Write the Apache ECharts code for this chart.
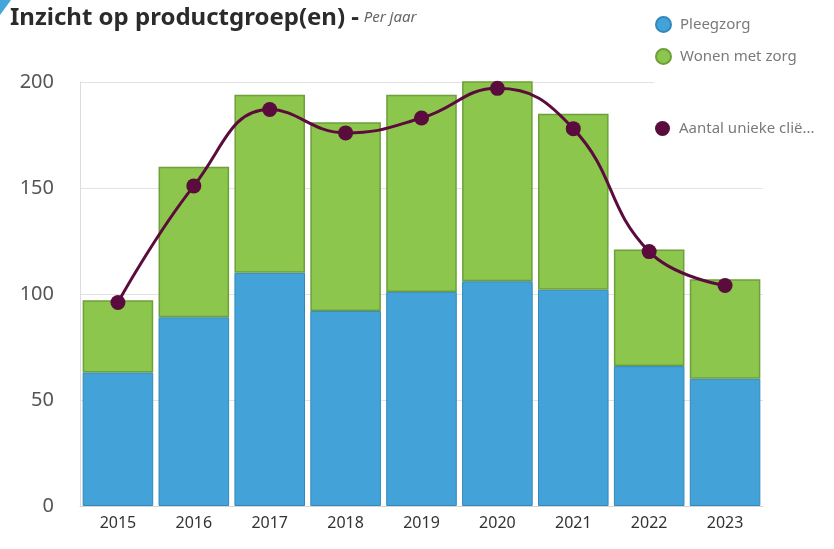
<!DOCTYPE html>
<html>
<head>
<meta charset="utf-8">
<script src="https://cdn.jsdelivr.net/npm/echarts@6/dist/echarts.min.js"></script>
<style>
  html, body { margin: 0; padding: 0; background: #fff; }
  #chart { width: 834px; height: 549px; }
</style>
</head>
<body>
<div id="chart"></div>
<script>
const years = ["2015", "2016", "2017", "2018", "2019", "2020", "2021", "2022", "2023"];
const pleegzorg = [63, 89, 110, 92, 101, 106, 102, 66, 60];
const wonenMetZorg = [34, 71, 84, 89, 93, 95, 83, 55, 47];
const uniekeClienten = [96, 151, 187, 176, 183, 197, 178, 120, 104];
const yTicks = { min: 0, max: 200, interval: 50 };

const chart = echarts.init(document.getElementById("chart"));
const font = "'Noto Sans', sans-serif";

chart.setOption({
  backgroundColor: "#fff",
  animation: false,
  textStyle: { fontFamily: font },
  title: {
    left: 5,
    top: 1,
    text: "{a|Inzicht op productgroep(en) -} {b|Per jaar}",
    textStyle: {
      rich: {
        a: { fontFamily: font, fontSize: 24, fontWeight: "bold", color: "#2b2b2b" },
        b: { fontFamily: font, fontSize: 15, fontWeight: "normal", fontStyle: "italic", color: "#666" }
      }
    }
  },
  graphic: [
    { type: "polygon", z: 1, shape: { points: [[0, 0], [11, 0], [0, 15]] }, style: { fill: "#45a6dc" } },
    { type: "rect", z: 3, shape: { x: 654, y: 0, width: 180, height: 150 }, style: { fill: "#fff" } }
  ],
  legend: [
    {
      data: ["Pleegzorg", "Wonen met zorg"],
      orient: "vertical",
      left: 650,
      top: 11,
      z: 10,
      icon: "circle",
      itemWidth: 15,
      itemHeight: 15,
      itemGap: 15,
      textStyle: { color: "#7a7a7a", fontSize: 15, fontFamily: font, padding: [0, 0, 0, 4] }
    },
    {
      data: ["Aantal unieke cliënten"],
      orient: "vertical",
      left: 650,
      top: 116,
      z: 10,
      icon: "circle",
      itemWidth: 15,
      itemHeight: 15,
      textStyle: { color: "#7a7a7a", fontSize: 15, fontFamily: font, padding: [0, 0, 0, 4], width: 138, overflow: "truncate", ellipsis: "..." }
    }
  ],
  grid: { left: 80, right: 71, top: 82, bottom: 43 },
  xAxis: {
    type: "category",
    data: years,
    axisLine: { lineStyle: { color: "#d6d6d6" } },
    axisTick: { show: false },
    axisLabel: { color: "#333", fontSize: 16, margin: 9, fontFamily: font }
  },
  yAxis: {
    type: "value",
    min: yTicks.min,
    max: yTicks.max,
    interval: yTicks.interval,
    axisLine: { show: true, lineStyle: { color: "#dcdcdc" } },
    axisTick: { show: false },
    splitLine: { lineStyle: { color: "#e2e2e2", width: 1 } },
    axisLabel: { color: "#555", fontSize: 20, margin: 26, fontFamily: font }
  },
  series: [
    {
      name: "Pleegzorg",
      type: "bar",
      stack: "totaal",
      data: pleegzorg,
      barCategoryGap: "7%",
      itemStyle: { color: "#43a3d8", borderColor: "#3388bb", borderWidth: 1 }
    },
    {
      name: "Wonen met zorg",
      type: "bar",
      stack: "totaal",
      data: wonenMetZorg,
      itemStyle: { color: "#8dc64d", borderColor: "#6d9f3a", borderWidth: 1.5 }
    },
    {
      name: "Aantal unieke cliënten",
      type: "line",
      data: uniekeClienten,
      smooth: 0.45,
      symbol: "circle",
      symbolSize: 15,
      z: 5,
      lineStyle: { color: "#5a0c3c", width: 3 },
      itemStyle: { color: "#5a0c3c" }
    }
  ]
});
</script>
</body>
</html>
